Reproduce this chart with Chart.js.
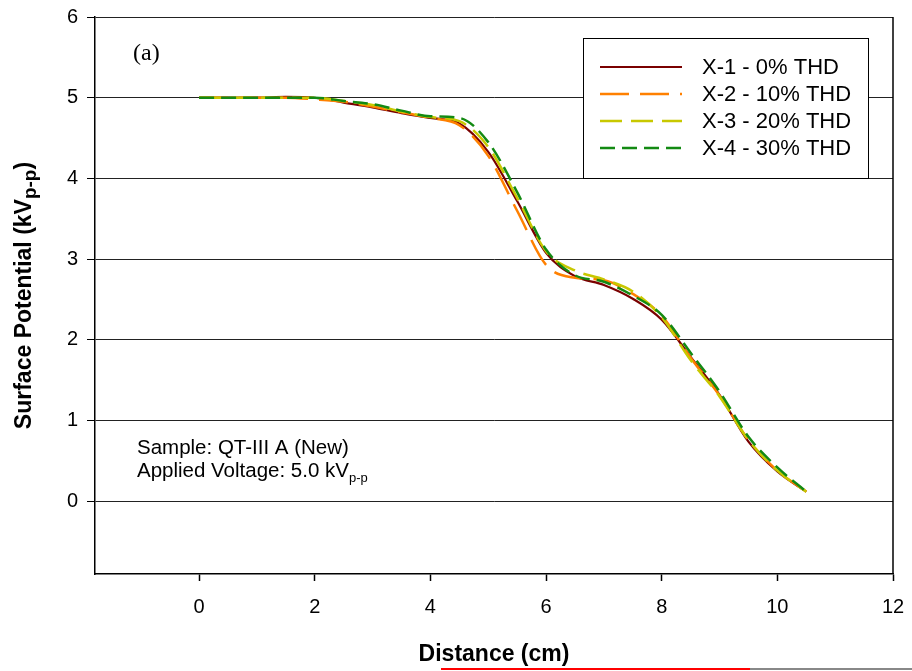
<!DOCTYPE html>
<html>
<head>
<meta charset="utf-8">
<script src="https://cdn.jsdelivr.net/npm/chart.js@4/dist/chart.umd.min.js"></script>
<style>
  body { margin: 0; background: #fff; }
  #wrap { position: relative; width: 912px; height: 671px; }
  #strip { position: absolute; left: 441px; top: 668px; width: 471px; height: 2px;
           background: linear-gradient(to right, #f00 0, #f00 309px, #888 309px, #888 100%); }
</style>
</head>
<body>
<div id="wrap">
  <canvas id="potentialChart" width="912" height="671"></canvas>
  <div id="strip"></div>
</div>
<script>
const distance = [0, 0.5, 1, 1.5, 2, 2.5, 3, 3.5, 4, 4.5, 5, 5.5, 6, 6.5, 7, 7.5, 8, 8.5, 9, 9.5, 10, 10.5];

const thd0  = [5.0, 5.0, 5.0, 5.01, 5.0, 4.94, 4.88, 4.81, 4.75, 4.68, 4.33, 3.72, 3.08, 2.79, 2.68, 2.51, 2.25, 1.79, 1.32, 0.74, 0.37, 0.12];
const thd10 = [5.0, 5.0, 5.0, 5.0, 4.98, 4.95, 4.89, 4.82, 4.75, 4.66, 4.28, 3.60, 2.93, 2.77, 2.74, 2.57, 2.30, 1.78, 1.31, 0.76, 0.38, 0.12];
const thd20 = [5.0, 5.0, 5.0, 5.0, 5.0, 4.96, 4.91, 4.83, 4.76, 4.71, 4.39, 3.76, 3.10, 2.86, 2.75, 2.60, 2.28, 1.75, 1.30, 0.76, 0.38, 0.12];
const thd30 = [5.0, 5.0, 5.0, 5.0, 5.0, 4.96, 4.92, 4.84, 4.77, 4.75, 4.45, 3.83, 3.12, 2.80, 2.72, 2.55, 2.31, 1.84, 1.36, 0.80, 0.42, 0.12];

const seriesNames = ['X-1 - 0% THD', 'X-2 - 10% THD', 'X-3 - 20% THD', 'X-4 - 30% THD'];
const xTicks = [0, 2, 4, 6, 8, 10, 12];
const yTicks = [0, 1, 2, 3, 4, 5, 6];

const FONT = "'Liberation Sans', Arial, sans-serif";

function toPoints(ys) {
    return ys.map((y, i) => ({ x: distance[i], y: y }));
}

function makeSeries(label, ys, color, dash, width, order) {
    return {
        label: label,
        data: toPoints(ys),
        borderColor: color,
        backgroundColor: color,
        borderWidth: width,
        borderDash: dash,
        pointRadius: 0,
        fill: false,
        cubicInterpolationMode: 'monotone',
        order: order
    };
}

// text with an optional subscript run, e.g. kV with p-p below
function drawSubText(ctx, x, y, parts) {
    let cx = x;
    parts.forEach(p => {
        ctx.font = p.font;
        ctx.fillText(p.text, cx, y + (p.dy || 0));
        cx += ctx.measureText(p.text).width;
    });
}

const overlay = {
    id: 'overlay',
    afterDraw(chart) {
        const ctx = chart.ctx;
        const area = chart.chartArea;
        ctx.save();

        // right frame edge
        ctx.strokeStyle = '#000';
        ctx.lineWidth = 1.5;
        ctx.beginPath();
        ctx.moveTo(area.right, area.top);
        ctx.lineTo(area.right, area.bottom);
        ctx.stroke();

        // legend box
        const bx = 583, by = 38, bw = 285, bh = 140;
        ctx.fillStyle = '#fff';
        ctx.fillRect(bx, by, bw, bh);
        ctx.strokeStyle = '#000';
        ctx.lineWidth = 1;
        ctx.strokeRect(bx + 0.5, by + 0.5, bw, bh);

        const rows = [67, 94, 121, 148];
        ctx.textBaseline = 'middle';
        ctx.textAlign = 'left';
        chart.data.datasets.forEach((ds, r) => {
            ctx.strokeStyle = ds.borderColor;
            ctx.lineWidth = ds.borderWidth;
            ctx.setLineDash(ds.borderDash);
            ctx.beginPath();
            ctx.moveTo(600, rows[r]);
            ctx.lineTo(682, rows[r]);
            ctx.stroke();
            ctx.setLineDash([]);
            ctx.fillStyle = '#000';
            ctx.font = '22px ' + FONT;
            ctx.fillText(ds.label, 702, rows[r] + 1);
        });

        // panel tag
        ctx.font = "24px 'Liberation Serif', 'Times New Roman', serif";
        ctx.fillStyle = '#000';
        ctx.fillText('(a)', 133, 54);

        // sample notes
        ctx.textBaseline = 'alphabetic';
        ctx.font = '20.5px ' + FONT;
        ctx.fillText('Sample: QT-III A (New)', 137, 454);
        drawSubText(ctx, 137, 477, [
            { text: 'Applied Voltage: 5.0 kV', font: '20.5px ' + FONT },
            { text: 'p-p', font: '13px ' + FONT, dy: 5 }
        ]);

        // x axis title
        ctx.font = 'bold 23px ' + FONT;
        ctx.textAlign = 'center';
        ctx.fillText('Distance (cm)', (area.left + area.right) / 2, 661);

        // y axis title, rotated
        ctx.translate(31, (area.top + area.bottom) / 2);
        ctx.rotate(-Math.PI / 2);
        ctx.textAlign = 'left';
        const partsY = [
            { text: 'Surface Potential (kV', font: 'bold 23px ' + FONT },
            { text: 'p-p', font: 'bold 19px ' + FONT, dy: 5 },
            { text: ')', font: 'bold 23px ' + FONT }
        ];
        let total = 0;
        partsY.forEach(p => { ctx.font = p.font; total += ctx.measureText(p.text).width; });
        drawSubText(ctx, -total / 2, 0, partsY);

        ctx.restore();
    }
};

const ctx = document.getElementById('potentialChart').getContext('2d');
const potentialChart = new Chart(ctx, {
    type: 'line',
    data: {
        datasets: [
            makeSeries(seriesNames[0], thd0, '#7a0000', [], 2.2, 3),
            makeSeries(seriesNames[1], thd10, '#ff8000', [29, 11], 2.5, 2),
            makeSeries(seriesNames[2], thd20, '#c8c800', [22, 9], 2.5, 1),
            makeSeries(seriesNames[3], thd30, '#138a13', [15, 7], 2.5, 0)
        ]
    },
    options: {
        responsive: false,
        animation: false,
        layout: { padding: { top: 17, right: 19, left: 0, bottom: 0 } },
        plugins: {
            legend: { display: false },
            tooltip: { enabled: false }
        },
        scales: {
            x: {
                type: 'linear',
                min: -1.8,
                max: 12,
                afterBuildTicks: scale => { scale.ticks = xTicks.map(v => ({ value: v })); },
                afterFit: scale => {
                    scale.height = 97;
                    scale.paddingLeft = 0;
                    scale.paddingRight = 0;
                },
                border: { color: '#000', width: 1.5 },
                grid: { drawOnChartArea: false, drawTicks: true, tickLength: 7, tickColor: '#000', tickWidth: 1.5 },
                ticks: { color: '#000', padding: 14, font: { family: FONT, size: 20 }, maxRotation: 0 }
            },
            y: {
                min: -0.9,
                max: 6,
                afterBuildTicks: scale => { scale.ticks = yTicks.map(v => ({ value: v })); },
                afterFit: scale => {
                    scale.width = 95;
                    scale.paddingTop = 0;
                    scale.paddingBottom = 0;
                },
                border: { color: '#000', width: 1.5 },
                grid: { color: '#222', lineWidth: 1, tickLength: 8, tickColor: '#000' },
                ticks: { color: '#000', padding: 9, font: { family: FONT, size: 20 } }
            }
        }
    },
    plugins: [overlay]
});
</script>
</body>
</html>
